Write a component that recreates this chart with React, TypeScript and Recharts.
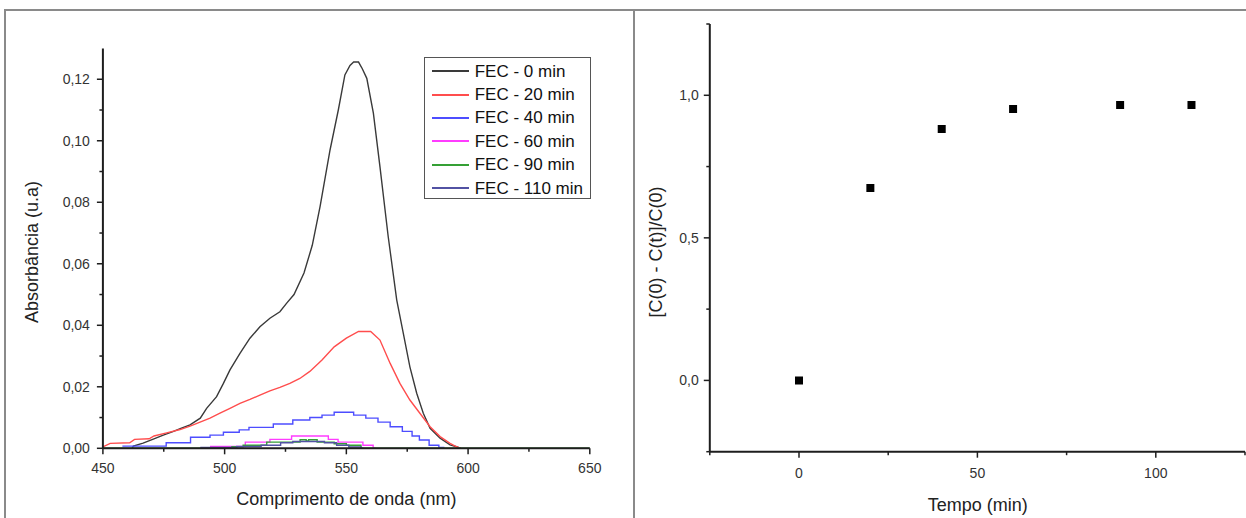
import React from 'react';
import { LineChart, Line, XAxis, YAxis, ScatterChart, Scatter, ZAxis, Legend, Label } from 'recharts';

const FONT = '"Liberation Sans", Arial, Helvetica, sans-serif';

// ---------- Left panel data: absorbance spectra (wavelength nm, absorbance) ----------
const fec0: [number, number][] = [
  [462, 0], [462.5, 0.0007], [466.5, 0.0017], [470.7, 0.003], [474.8, 0.0043], [479, 0.0055],
  [482, 0.0065], [485.8, 0.0076], [490, 0.0098], [492.6, 0.013], [496.7, 0.0168], [499.5, 0.0211],
  [502.2, 0.0255], [506.3, 0.0309], [510.4, 0.0358], [514.5, 0.0395], [518.6, 0.0423], [522.7, 0.0444],
  [525.5, 0.0472], [528.5, 0.05], [532.6, 0.057], [536, 0.066], [539.2, 0.0786], [543.3, 0.097],
  [546.7, 0.11], [549.4, 0.1214], [551.5, 0.1245], [553, 0.1256], [555, 0.1256], [556.5, 0.1235],
  [558.4, 0.1203], [561.1, 0.109], [563.8, 0.0916], [567.2, 0.0688], [570.7, 0.0482], [573.4, 0.0374],
  [576.1, 0.0265], [578.9, 0.0179], [581.6, 0.0114], [584.4, 0.0065], [588.5, 0.0033], [592.6, 0.0011],
  [595.3, 0.0005], [597, 0],
];
const fec20: [number, number][] = [
  [450, 0.0005], [453, 0.0016], [461, 0.0018], [463, 0.0029], [469, 0.0031], [471, 0.004], [476.2, 0.005],
  [481.7, 0.0061], [485.8, 0.0072], [489.9, 0.0085], [494, 0.0098], [498.1, 0.0114], [502.2, 0.013],
  [506.3, 0.0146], [510.4, 0.0159], [514.5, 0.0173], [518.6, 0.0187], [522.7, 0.0198], [526.8, 0.0211],
  [530.9, 0.0227], [535, 0.025], [540, 0.0287], [545, 0.033], [550, 0.0358], [555, 0.038], [560, 0.038],
  [563.8, 0.0352], [568, 0.0276], [572, 0.0211], [576.1, 0.0157], [580.2, 0.0114], [584.4, 0.007],
  [588.5, 0.0038], [592.6, 0.0016], [595.3, 0.0005], [597, 0],
];
const fec40: [number, number][] = [
  [458, 0.0007], [476, 0.0018], [486, 0.0036], [494, 0.0043], [499.5, 0.0052], [506, 0.006], [510, 0.0068],
  [520, 0.0079], [528, 0.0092], [535, 0.01], [540, 0.0108], [545, 0.0117], [553, 0.0108], [558, 0.0098],
  [563, 0.0085], [568, 0.007], [573, 0.0055], [577, 0.004], [580, 0.0027], [584, 0.001], [588, 0.0003], [590, 0],
];
const fec60: [number, number][] = [
  [494, 0.0006], [508.5, 0.002], [518.6, 0.0029], [527.5, 0.004], [542.6, 0.0029], [546.6, 0.002],
  [556.8, 0.001], [561, 0], [562, 0],
];
const fec90: [number, number][] = [
  [450, 0], [503, 0.0005], [507.6, 0.001], [517.3, 0.002], [531, 0.0028], [533.5, 0.0024], [534.5, 0.0028],
  [538, 0.002], [545, 0.0015], [550, 0.001], [556, 0], [650, 0],
];
const fec110: [number, number][] = [
  [490, 0.0003], [505, 0.0006], [515, 0.001], [523, 0.0018], [528, 0.0022], [541, 0.0018], [546, 0.001],
  [551, 0.0004], [556, 0], [557, 0],
];

const seriesNames = ['FEC - 0 min', 'FEC - 20 min', 'FEC - 40 min', 'FEC - 60 min', 'FEC - 90 min', 'FEC - 110 min'];
const seriesValues = [fec0, fec20, fec40, fec60, fec90, fec110];
const seriesColors = ['#3a3a3a', '#ff4d4d', '#4d4dff', '#ff3cff', '#35a035', '#5252a3'];
const seriesCurve = ['linear', 'linear', 'stepAfter', 'stepAfter', 'stepAfter', 'stepAfter'];

const wlTicks = [450, 475, 500, 525, 550, 575, 600, 625, 650];
const wlMajor = [450, 500, 550, 600, 650];
const absTicks = [0, 0.01, 0.02, 0.03, 0.04, 0.05, 0.06, 0.07, 0.08, 0.09, 0.1, 0.11, 0.12];
const absMajor = [0, 0.02, 0.04, 0.06, 0.08, 0.1, 0.12];

// ---------- Right panel data ----------
const tempo = [0, 20, 40, 60, 90, 110];
const removal = [0, 0.675, 0.882, 0.952, 0.966, 0.966];
const tTicks = [-25, 0, 25, 50, 75, 100, 125];
const tMajor = [0, 50, 100];
const rTicks = [-0.25, 0, 0.25, 0.5, 0.75, 1, 1.25];
const rMajor = [0, 0.5, 1];

const isMajor = (v: number, majors: number[]) => majors.some((m) => Math.abs(m - v) < 1e-9);
const fmtComma = (v: number, d: number) => v.toFixed(d).replace('.', ',');

const AXIS = '#1e1e1e';
const TICKTXT = '#333';

const makeYTick = (majors: number[], dec: number, gap: number) => (props: any) => {
  const { x, y, payload } = props;
  const major = isMajor(payload.value, majors);
  return (
    <g>
      <line x1={x} x2={x - (major ? 6 : 3.5)} y1={y} y2={y} stroke={AXIS} strokeWidth={1.5} />
      {major && (
        <text x={x - gap} y={y} dy="0.36em" textAnchor="end" fontSize={14} fontFamily={FONT} fill={TICKTXT}>
          {fmtComma(payload.value, dec)}
        </text>
      )}
    </g>
  );
};

const makeXTick = (majors: number[], gap: number) => (props: any) => {
  const { x, y, payload } = props;
  const major = isMajor(payload.value, majors);
  return (
    <g>
      <line x1={x} x2={x} y1={y} y2={y + (major ? 6 : 3.5)} stroke={AXIS} strokeWidth={1.5} />
      {major && (
        <text x={x} y={y + gap} dy="0.36em" textAnchor="middle" fontSize={14} fontFamily={FONT} fill={TICKTXT}>
          {String(payload.value)}
        </text>
      )}
    </g>
  );
};

// layout of left panel (container at page 0,0)
const LW = 640, LH = 518;
const L_PLOT = { left: 102.9, right: 589.8, top: 48.5, bottom: 448.3 };
// layout of right panel (container at page x=634)
const RX = 634, RW = 612, RH = 518;
const R_PLOT = { left: 75.8, right: 611, top: 24, bottom: 451.7 };
const AXW = 60;

const titleStyle = { fontSize: 18, fontFamily: FONT, fill: '#222' } as const;

const LegendBox = () => (
  <div
    style={{
      width: 167,
      height: 142,
      boxSizing: 'border-box',
      border: '1.5px solid #555',
      background: '#fff',
      paddingTop: 1.5,
    }}
  >
    {seriesNames.map((name, i) => (
      <div key={name} style={{ display: 'flex', alignItems: 'center', height: 23.4, marginLeft: 6.7 }}>
        <svg width={37} height={4} style={{ display: 'block' }}>
          <line x1={0} x2={37} y1={2} y2={2} stroke={seriesColors[i]} strokeWidth={2} />
        </svg>
        <span style={{ marginLeft: 6, fontSize: 17, fontFamily: FONT, color: '#111', lineHeight: '23px', whiteSpace: 'nowrap' }}>
          {name}
        </span>
      </div>
    ))}
  </div>
);

export default function App() {
  const spectra = seriesValues.map((arr) => arr.map(([x, y]) => ({ x, y })));
  const points = tempo.map((t, i) => ({ t, r: removal[i] }));

  return (
    <div style={{ position: 'absolute', left: 0, top: 0, width: 1246, height: 518, background: '#fff', overflow: 'hidden' }}>
      {/* frame */}
      <div style={{ position: 'absolute', left: 4, top: 9, width: 1250, height: 520, borderTop: '2px solid #8a8a8a', borderLeft: '2px solid #8a8a8a' }} />
      <div style={{ position: 'absolute', left: 633, top: 10, width: 2, height: 510, background: '#8a8a8a' }} />

      {/* left chart */}
      <div style={{ position: 'absolute', left: 0, top: 0 }}>
        <LineChart
          width={LW}
          height={LH}
          margin={{ top: L_PLOT.top, left: L_PLOT.left - AXW, right: LW - L_PLOT.right, bottom: LH - L_PLOT.bottom - AXW }}
        >
          <XAxis
            dataKey="x"
            type="number"
            domain={[450, 650]}
            ticks={wlTicks}
            interval={0}
            allowDataOverflow
            height={AXW}
            tickSize={0}
            tickMargin={0}
            tickLine={false}
            axisLine={{ stroke: AXIS, strokeWidth: 2 }}
            tick={makeXTick(wlMajor, 20)}
          >
            <Label
              content={() => (
                <text x={(L_PLOT.left + L_PLOT.right) / 2} y={L_PLOT.bottom + 50} dy="0.36em" textAnchor="middle" {...titleStyle}>
                  Comprimento de onda (nm)
                </text>
              )}
            />
          </XAxis>
          <YAxis
            type="number"
            domain={[0, 0.13]}
            ticks={absTicks}
            interval={0}
            allowDataOverflow
            width={AXW}
            tickSize={0}
            tickMargin={0}
            tickLine={false}
            axisLine={{ stroke: AXIS, strokeWidth: 2 }}
            tick={makeYTick(absMajor, 2, 13)}
          >
            <Label
              content={() => {
                const cx = L_PLOT.left - 71;
                const cy = 252;
                return (
                  <text x={cx} y={cy} dy="0.36em" textAnchor="middle" transform={`rotate(-90 ${cx} ${cy})`} {...titleStyle}>
                    Absorbância (u.a)
                  </text>
                );
              }}
            />
          </YAxis>
          {spectra.map((d, i) => (
            <Line
              key={seriesNames[i]}
              data={d}
              dataKey="y"
              name={seriesNames[i]}
              type={seriesCurve[i] as any}
              stroke={seriesColors[i]}
              strokeWidth={1.4}
              dot={false}
              activeDot={false}
              isAnimationActive={false}
            />
          ))}
          <Legend
            layout="vertical"
            align="center"
            verticalAlign="middle"
            content={() => <LegendBox />}
            wrapperStyle={{ left: 424, top: 57, width: 167, height: 142, margin: 0, padding: 0 }}
          />
        </LineChart>
      </div>

      {/* right chart */}
      <div style={{ position: 'absolute', left: RX, top: 0 }}>
        <ScatterChart
          width={RW}
          height={RH}
          margin={{ top: R_PLOT.top, left: R_PLOT.left - AXW, right: RW - R_PLOT.right, bottom: RH - R_PLOT.bottom - AXW }}
        >
          <XAxis
            dataKey="t"
            type="number"
            domain={[-25, 125]}
            ticks={tTicks}
            interval={0}
            allowDataOverflow
            height={AXW}
            tickSize={0}
            tickMargin={0}
            tickLine={false}
            axisLine={{ stroke: AXIS, strokeWidth: 2 }}
            tick={makeXTick(tMajor, 21)}
          >
            <Label
              content={() => (
                <text x={977.7 - RX} y={R_PLOT.bottom + 53.3} dy="0.36em" textAnchor="middle" {...titleStyle}>
                  Tempo (min)
                </text>
              )}
            />
          </XAxis>
          <YAxis
            dataKey="r"
            type="number"
            domain={[-0.25, 1.25]}
            ticks={rTicks}
            interval={0}
            allowDataOverflow
            width={AXW}
            tickSize={0}
            tickMargin={0}
            tickLine={false}
            axisLine={{ stroke: AXIS, strokeWidth: 2 }}
            tick={makeYTick(rMajor, 1, 11)}
          >
            <Label
              content={() => {
                const cx = R_PLOT.left - 54.3;
                const cy = 252;
                return (
                  <text x={cx} y={cy} dy="0.36em" textAnchor="middle" transform={`rotate(-90 ${cx} ${cy})`} {...titleStyle}>
                    [C(0) - C(t)]/C(0)
                  </text>
                );
              }}
            />
          </YAxis>
          <ZAxis range={[80, 80]} />
          <Scatter data={points} shape="square" fill="#000" isAnimationActive={false} />
        </ScatterChart>
      </div>
    </div>
  );
}
